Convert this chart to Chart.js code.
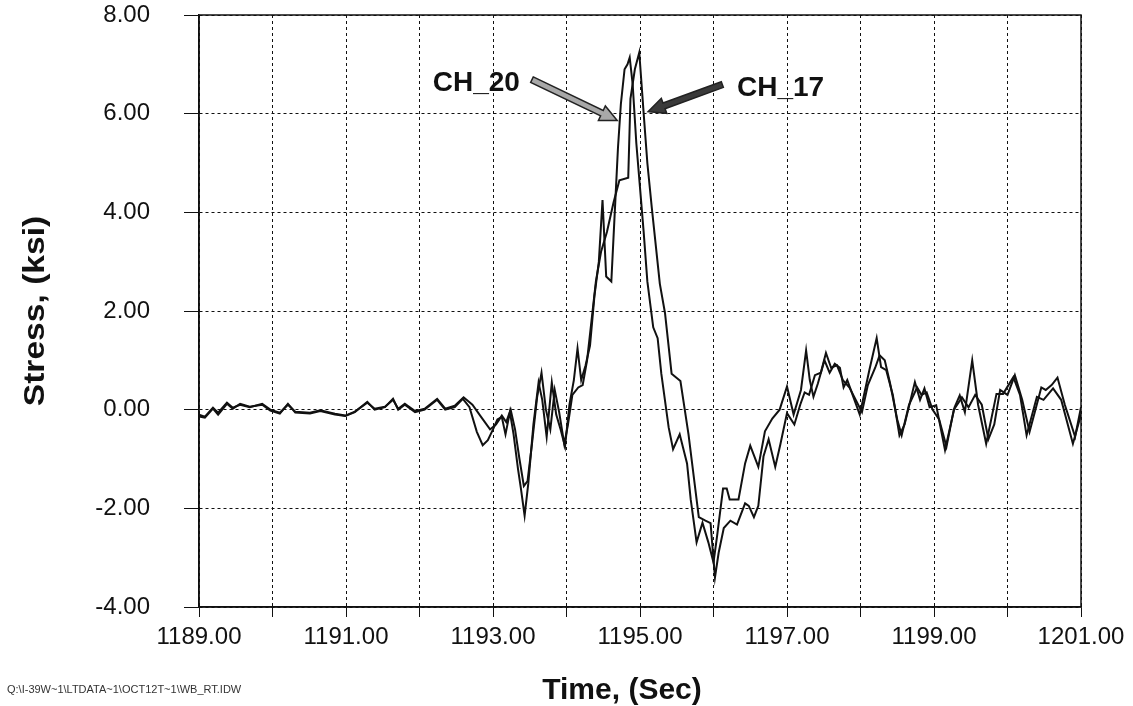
<!DOCTYPE html>
<html>
<head>
<meta charset="utf-8">
<title>Stress vs Time</title>
<script src="https://cdn.jsdelivr.net/npm/chart.js@4/dist/chart.umd.min.js"></script>
<style>
  html, body { margin: 0; padding: 0; background: #fff; }
  #wrap { width: 1133px; height: 706px; position: relative; }
</style>
</head>
<body>
<div id="wrap"><canvas id="stressChart"></canvas></div>
<script>
// strain gauge records, stress in ksi against time in seconds
const times20 = [
  1189.00, 1189.08, 1189.19, 1189.26, 1189.38, 1189.46, 1189.56, 1189.69, 1189.86, 1189.97,
  1190.10, 1190.21, 1190.31, 1190.51, 1190.65, 1190.85, 1190.99, 1191.12, 1191.29, 1191.39,
  1191.53, 1191.64, 1191.71, 1191.80, 1191.94, 1192.07, 1192.24, 1192.35, 1192.48, 1192.59,
  1192.68, 1192.78, 1192.86, 1192.93, 1193.00, 1193.06, 1193.12, 1193.17, 1193.23, 1193.28,
  1193.34, 1193.38, 1193.43, 1193.48, 1193.55, 1193.62, 1193.67, 1193.73, 1193.80, 1193.86,
  1193.92, 1193.98, 1194.04, 1194.10, 1194.15, 1194.20, 1194.26, 1194.32, 1194.38, 1194.44,
  1194.49, 1194.54, 1194.61, 1194.66, 1194.70, 1194.74, 1194.79, 1194.83, 1194.86, 1194.90,
  1194.95, 1195.00, 1195.05, 1195.10, 1195.18, 1195.24, 1195.29, 1195.39, 1195.45, 1195.54,
  1195.64, 1195.69, 1195.77, 1195.85, 1195.93, 1196.00, 1196.05, 1196.13, 1196.18, 1196.22,
  1196.34, 1196.43, 1196.50, 1196.61, 1196.70, 1196.80, 1196.90, 1197.00, 1197.09, 1197.19,
  1197.26, 1197.31, 1197.36, 1197.42, 1197.51, 1197.58, 1197.65, 1197.72, 1197.77, 1197.82,
  1197.99, 1198.12, 1198.22, 1198.28, 1198.35, 1198.44, 1198.53, 1198.60, 1198.74, 1198.81,
  1198.87, 1198.94, 1199.03, 1199.15, 1199.22, 1199.28, 1199.35, 1199.42, 1199.52, 1199.60,
  1199.71, 1199.85, 1199.94, 1200.08, 1200.17, 1200.26, 1200.40, 1200.49, 1200.62, 1200.73,
  1200.89, 1200.99, 1201.00
];
const ch20 = [
  -0.14, -0.16, 0.02, -0.10, 0.12, 0.02, 0.12, 0.06, 0.10, -0.02,
  -0.08, 0.12, -0.06, -0.08, -0.03, -0.10, -0.13, -0.05, 0.16, 0.00,
  0.05, 0.22, 0.00, 0.10, -0.05, 0.00, 0.20, 0.00, 0.05, 0.22,
  0.05, -0.45, -0.72, -0.62, -0.40, -0.20, -0.15, -0.50, -0.05, -0.50,
  -1.20, -1.60, -2.15, -1.50, -0.30, 0.55, 0.20, -0.55, 0.55, -0.10,
  -0.40, -0.75, 0.10, 0.60, 1.24, 0.60, 0.90, 1.30, 2.30, 3.00,
  4.25, 2.70, 2.60, 4.10, 5.30, 6.20, 6.90, 7.00, 7.14, 6.60,
  5.40, 4.50, 3.60, 2.60, 1.67, 1.45, 0.73, -0.36, -0.80, -0.50,
  -1.09, -1.82, -2.69, -2.29, -2.69, -3.10, -2.55, -1.60, -1.60, -1.82,
  -1.82, -1.09, -0.73, -1.16, -0.44, -0.18, 0.00, 0.47, -0.10, 0.40,
  1.20, 0.60, 0.26, 0.53, 1.00, 0.75, 0.93, 0.85, 0.45, 0.60,
  -0.10, 0.80, 1.45, 0.86, 0.80, 0.30, -0.52, -0.30, 0.56, 0.20,
  0.43, 0.05, 0.09, -0.82, -0.35, 0.05, 0.29, -0.05, 1.00, 0.10,
  -0.69, 0.32, 0.32, 0.66, 0.30, -0.52, 0.26, 0.20, 0.43, 0.20,
  -0.69, -0.15, -0.10
];

const times17 = [
  1189.00, 1189.08, 1189.19, 1189.26, 1189.38, 1189.46, 1189.56, 1189.69, 1189.86, 1189.97,
  1190.10, 1190.21, 1190.31, 1190.51, 1190.65, 1190.85, 1190.99, 1191.12, 1191.29, 1191.39,
  1191.53, 1191.64, 1191.71, 1191.80, 1191.94, 1192.07, 1192.24, 1192.35, 1192.48, 1192.60,
  1192.72, 1192.84, 1192.96, 1193.04, 1193.12, 1193.18, 1193.24, 1193.30, 1193.36, 1193.42,
  1193.47, 1193.53, 1193.60, 1193.66, 1193.72, 1193.78, 1193.84, 1193.90, 1193.97, 1194.02,
  1194.08, 1194.16, 1194.22, 1194.28, 1194.34, 1194.40, 1194.47, 1194.55, 1194.64, 1194.72,
  1194.84, 1194.87, 1194.93, 1194.99, 1195.05, 1195.10, 1195.16, 1195.27, 1195.34, 1195.43,
  1195.55, 1195.66, 1195.80, 1195.89, 1195.96, 1196.02, 1196.07, 1196.14, 1196.23, 1196.32,
  1196.43, 1196.48, 1196.55, 1196.61, 1196.68, 1196.75, 1196.84, 1196.91, 1197.00, 1197.10,
  1197.18, 1197.24, 1197.30, 1197.38, 1197.46, 1197.53, 1197.60, 1197.68, 1197.76, 1197.85,
  1198.02, 1198.10, 1198.20, 1198.26, 1198.33, 1198.40, 1198.50, 1198.56, 1198.66, 1198.77,
  1198.83, 1198.90, 1198.98, 1199.07, 1199.17, 1199.27, 1199.38, 1199.47, 1199.56, 1199.65,
  1199.74, 1199.82, 1199.90, 1200.00, 1200.10, 1200.20, 1200.30, 1200.38, 1200.46, 1200.52,
  1200.60, 1200.68, 1200.78, 1200.92, 1201.00
];
const ch17 = [
  -0.10, -0.14, 0.04, -0.06, 0.14, 0.04, 0.10, 0.05, 0.12, 0.00,
  -0.06, 0.10, -0.04, -0.06, -0.01, -0.08, -0.12, -0.04, 0.14, 0.02,
  0.06, 0.20, 0.02, 0.12, -0.03, 0.02, 0.22, 0.02, 0.08, 0.25,
  0.10, -0.15, -0.40, -0.30, -0.12, -0.25, 0.00, -0.40, -1.00, -1.55,
  -1.45, -0.70, 0.25, 0.75, 0.00, -0.40, 0.40, -0.05, -0.70, -0.30,
  0.30, 0.45, 0.50, 1.00, 1.80, 2.60, 3.20, 3.60, 4.20, 4.65,
  4.70, 6.30, 6.90, 7.24, 6.00, 5.00, 4.10, 2.55, 1.96, 0.73,
  0.58, -0.50, -2.18, -2.25, -2.30, -3.40, -2.90, -2.40, -2.25, -2.33,
  -1.90, -1.95, -2.18, -1.95, -0.95, -0.60, -1.16, -0.70, -0.07, -0.30,
  0.10, 0.35, 0.30, 0.70, 0.75, 1.15, 0.85, 0.90, 0.60, 0.45,
  -0.05, 0.50, 0.85, 1.10, 1.00, 0.55, -0.20, -0.52, 0.10, 0.45,
  0.30, 0.35, 0.00, -0.20, -0.75, 0.00, 0.25, 0.05, 0.30, 0.10,
  -0.60, -0.30, 0.40, 0.30, 0.70, 0.20, -0.45, 0.00, 0.45, 0.40,
  0.50, 0.65, 0.10, -0.55, 0.05
];

const xTickLabels = ['1189.00', '1191.00', '1193.00', '1195.00', '1197.00', '1199.00', '1201.00'];
const yTickLabels = ['-4.00', '-2.00', '0.00', '2.00', '4.00', '6.00', '8.00'];

const xTitle = 'Time, (Sec)';
const yTitle = 'Stress, (ksi)';
const filePath = 'Q:\\I-39W~1\\LTDATA~1\\OCT12T~1\\WB_RT.IDW';

// arrow tail / tip and label anchor in data units
const callouts = [
  { text: 'CH_20', label: [1192.18, 6.45], tail: [1193.53, 6.69], tip: [1194.69, 5.86], fill: '#a8a8a8' },
  { text: 'CH_17', label: [1196.32, 6.35], tail: [1196.12, 6.59], tip: [1195.11, 6.04], fill: '#3a3a3a' }
];

function toPoints(xs, ys) {
  return xs.map((x, i) => ({ x: x, y: ys[i] }));
}

Chart.defaults.font.family = '"Liberation Sans", Arial, sans-serif';
Chart.defaults.color = '#111';

function drawArrow(ctx, x1, y1, x2, y2, fill) {
  const ang = Math.atan2(y2 - y1, x2 - x1);
  const len = Math.hypot(x2 - x1, y2 - y1);
  const headLen = 17, headW = 8, shaftW = 3;
  ctx.save();
  ctx.translate(x1, y1);
  ctx.rotate(ang);
  ctx.beginPath();
  ctx.moveTo(0, -shaftW);
  ctx.lineTo(len - headLen, -shaftW);
  ctx.lineTo(len - headLen, -headW);
  ctx.lineTo(len, 0);
  ctx.lineTo(len - headLen, headW);
  ctx.lineTo(len - headLen, shaftW);
  ctx.lineTo(0, shaftW);
  ctx.closePath();
  ctx.fillStyle = fill;
  ctx.fill();
  ctx.lineWidth = 1.5;
  ctx.strokeStyle = '#222';
  ctx.stroke();
  ctx.restore();
}

const decorations = {
  id: 'decorations',
  afterDraw(chart) {
    const ctx = chart.ctx;
    const a = chart.chartArea;
    const xs = chart.scales.x, ys = chart.scales.y;

    // frame round the plot
    ctx.save();
    ctx.strokeStyle = '#111';
    ctx.lineWidth = 1.5;
    ctx.strokeRect(a.left, a.top, a.right - a.left, a.bottom - a.top);
    ctx.restore();

    // channel call-outs
    callouts.forEach(c => {
      drawArrow(ctx,
        xs.getPixelForValue(c.tail[0]), ys.getPixelForValue(c.tail[1]),
        xs.getPixelForValue(c.tip[0]), ys.getPixelForValue(c.tip[1]), c.fill);
      ctx.save();
      ctx.font = 'bold 28px "Liberation Sans", Arial, sans-serif';
      ctx.fillStyle = '#111';
      ctx.textAlign = 'left';
      ctx.textBaseline = 'alphabetic';
      ctx.fillText(c.text, xs.getPixelForValue(c.label[0]), ys.getPixelForValue(c.label[1]));
      ctx.restore();
    });

    // axis titles
    ctx.save();
    ctx.fillStyle = '#111';
    ctx.font = 'bold 30px "Liberation Sans", Arial, sans-serif';
    ctx.textAlign = 'center';
    ctx.textBaseline = 'alphabetic';
    ctx.fillText(xTitle, 622, 699);
    ctx.translate(44, (a.top + a.bottom) / 2);
    ctx.rotate(-Math.PI / 2);
    ctx.scale(1.12, 1);
    ctx.fillText(yTitle, 0, 0);
    ctx.restore();

    // source file path
    ctx.save();
    ctx.fillStyle = '#333';
    ctx.font = '11px "Liberation Sans", Arial, sans-serif';
    ctx.textAlign = 'left';
    ctx.textBaseline = 'alphabetic';
    ctx.fillText(filePath, 7, 693);
    ctx.restore();
  }
};

new Chart(document.getElementById('stressChart'), {
  type: 'line',
  data: {
    datasets: [
      {
        label: 'CH_20',
        data: toPoints(times20, ch20),
        borderColor: '#111',
        borderWidth: 2,
        pointRadius: 0,
        tension: 0,
        fill: false
      },
      {
        label: 'CH_17',
        data: toPoints(times17, ch17),
        borderColor: '#111',
        borderWidth: 2,
        pointRadius: 0,
        tension: 0,
        fill: false
      }
    ]
  },
  options: {
    responsive: true,
    maintainAspectRatio: false,
    devicePixelRatio: 1,
    animation: false,
    layout: { padding: { top: 15, right: 52, left: 0, bottom: 0 } },
    plugins: {
      legend: { display: false },
      tooltip: { enabled: false }
    },
    scales: {
      x: {
        type: 'linear',
        min: 1189,
        max: 1201,
        afterFit(scale) { scale.height = 99; },
        ticks: {
          stepSize: 1,
          autoSkip: false,
          maxRotation: 0,
          padding: 6,
          font: { size: 24 },
          color: '#111',
          callback: (v) => {
            const s = Number(v).toFixed(2);
            return xTickLabels.includes(s) ? s : '';
          }
        },
        grid: {
          color: '#111',
          lineWidth: 1,
          tickLength: 10,
          tickColor: '#111'
        },
        border: { display: true, color: '#111', width: 1.5, dash: [3, 3] }
      },
      y: {
        min: -4,
        max: 8,
        afterFit(scale) {
          // fixed gutter; label overhang must not push the plot down
          scale.width = 199;
          scale.paddingTop = 0;
          scale.paddingBottom = 0;
        },
        ticks: {
          stepSize: 2,
          padding: 34,
          font: { size: 24 },
          color: '#111',
          callback: (v) => {
            const s = Number(v).toFixed(2);
            return yTickLabels.includes(s) ? s : '';
          }
        },
        grid: {
          color: '#111',
          lineWidth: 1,
          tickLength: 15,
          tickColor: '#111'
        },
        border: { display: true, color: '#111', width: 1.5, dash: [3, 3] }
      }
    }
  },
  plugins: [decorations]
});
</script>
</body>
</html>
